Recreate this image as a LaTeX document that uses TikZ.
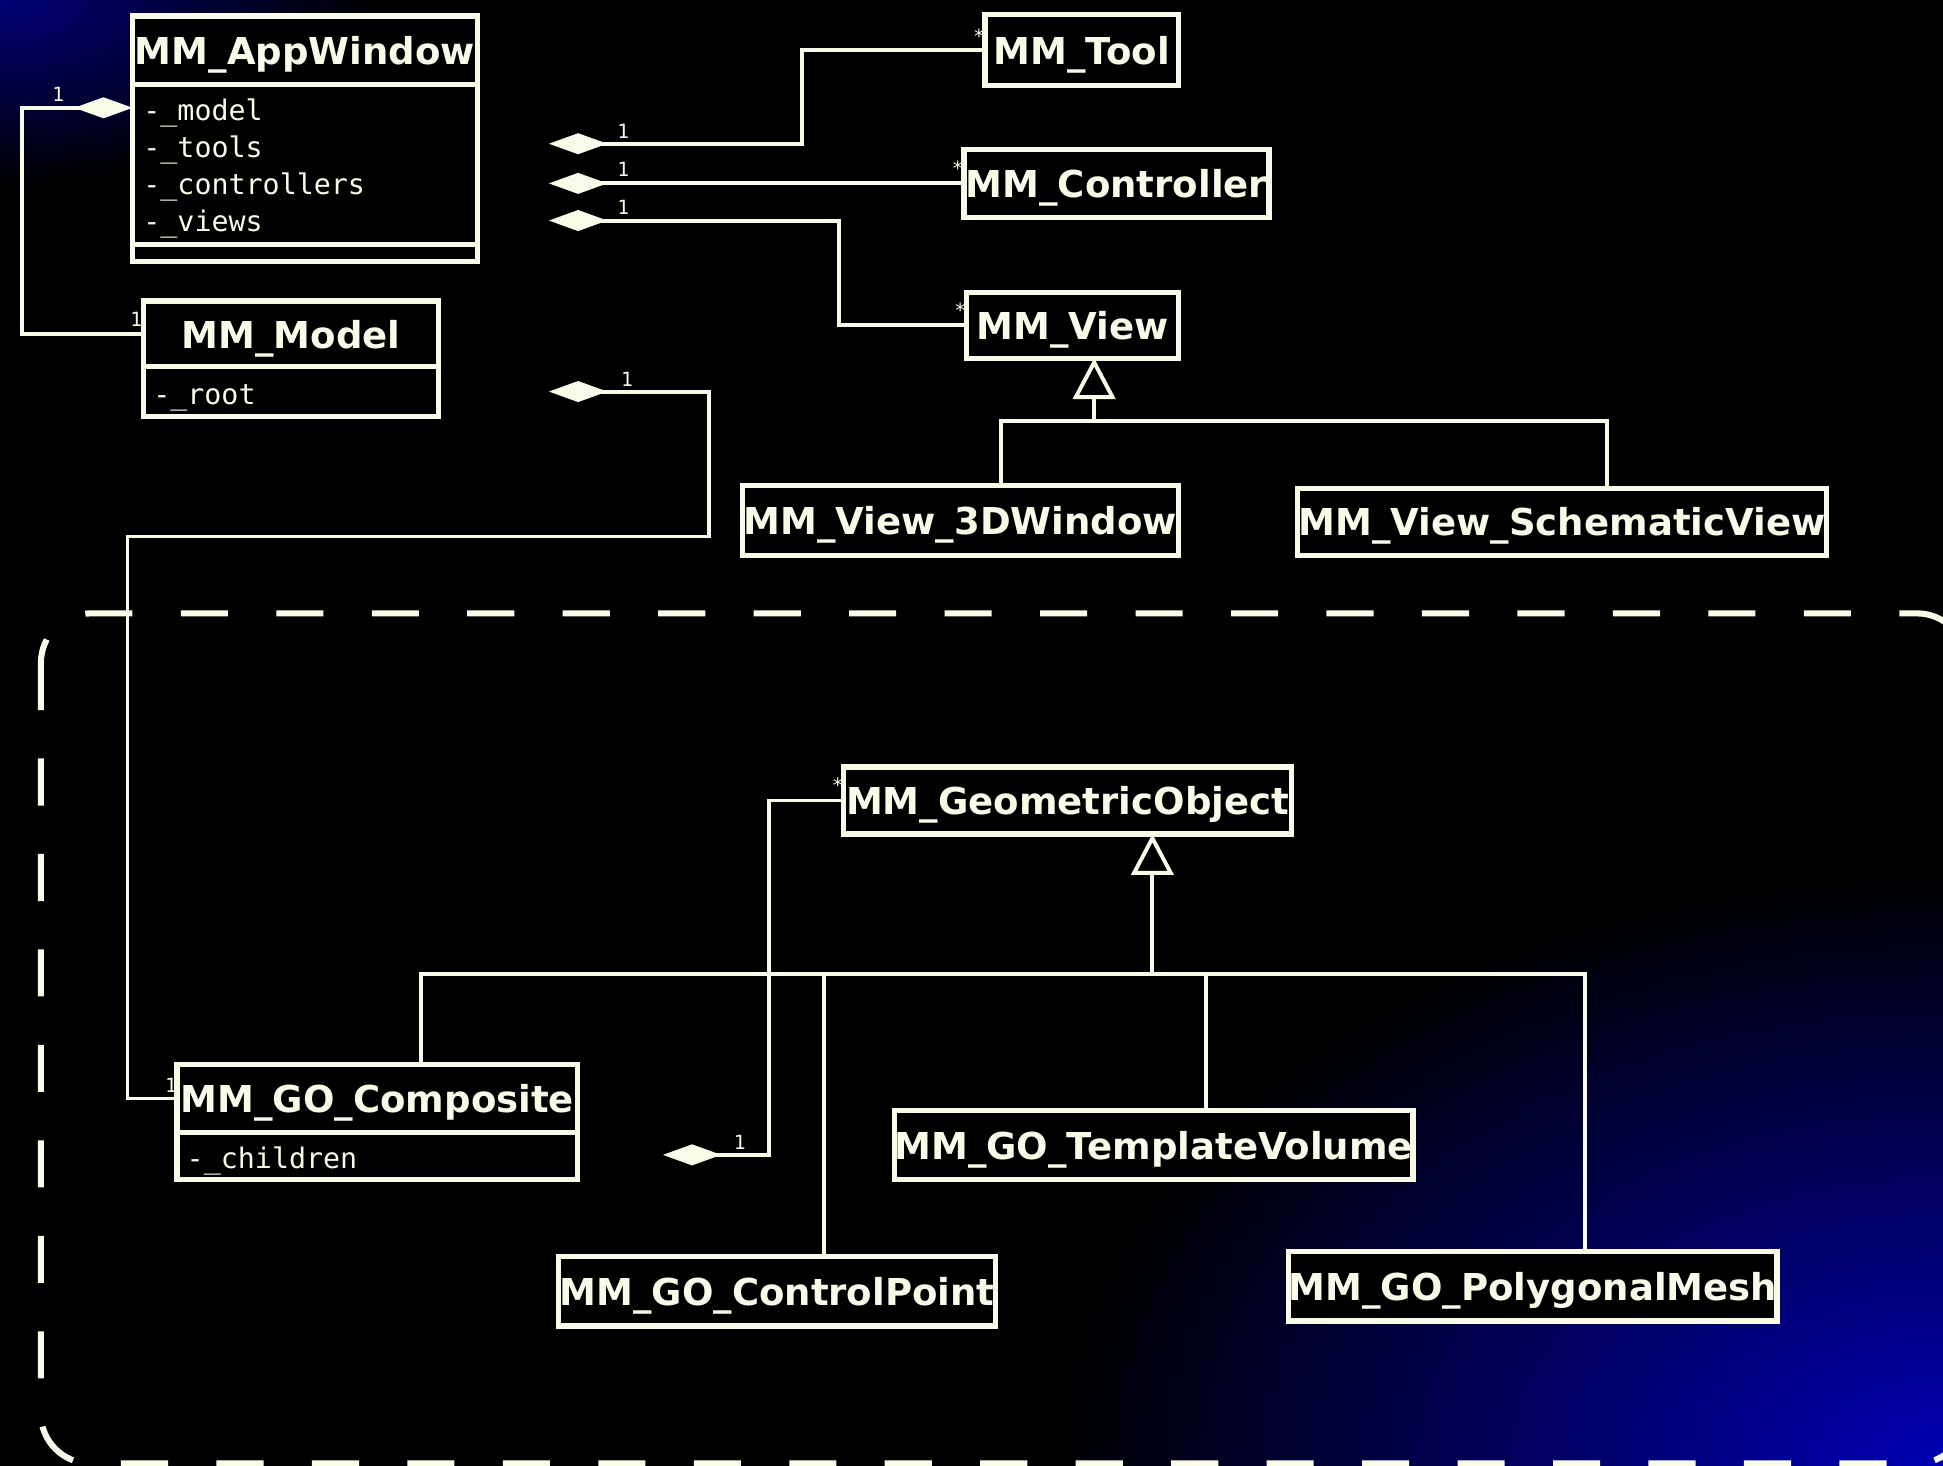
\documentclass[tikz,border=0pt]{standalone}
\usepackage{fontspec}
\usetikzlibrary{arrows.meta,positioning}
\newfontfamily\umlsans{DejaVu Sans}
\newfontfamily\umlmono{DejaVu Sans Mono}
\definecolor{umlline}{RGB}{250,250,232}
\definecolor{topblue}{RGB}{0,0,120}
\definecolor{cornerblue}{RGB}{0,0,180}

\begin{document}
\begin{tikzpicture}[x=0.01cm, y=-0.01cm,
    cls/.style={draw=umlline, line width=1.2pt, fill=black, text=umlline, inner sep=0pt,
                outer sep=0pt, text depth=0pt, font=\umlsans\bfseries\fontsize{8.5}{10}\selectfont},
    attr/.style={anchor=west, inner sep=0pt, text=umlline, font=\umlmono\fontsize{6.5}{8}\selectfont},
    mult/.style={inner sep=0pt, text=umlline, font=\umlmono\fontsize{4.5}{5}\selectfont},
    line/.style={draw=umlline, line width=0.9pt},
    comp/.style={line, -{Diamond[length=4.7mm, width=1.7mm]}},
    gen/.style={line, -{Triangle[open, length=3.3mm, width=3.4mm]}},
    pkg/.style={draw=umlline, line width=1.4pt, dash pattern=on 3.8mm off 3.9mm, rounded corners=4mm}
  ]
  \useasboundingbox (0,0) rectangle (1568,1183);
  \clip (0,0) rectangle (1568,1183);
  \fill[black] (0,0) rectangle (1568,1183);
  \shade[inner color=topblue, outer color=black] (0,0) ellipse [x radius=3cm, y radius=1.5cm];
  \shade[inner color=cornerblue, outer color=black] (1568,1183) ellipse [x radius=7.2cm, y radius=4.8cm];
  \draw[pkg] (33,495) rectangle (1587,1181);

  \node[cls, minimum width=2.78cm, minimum height=5.5mm] (apptitle) at (246,40.5) {MM\_AppWindow};
  \node[cls, minimum width=2.78cm, minimum height=12.9mm, below=0pt of apptitle] (appattr) {};
  \node[cls, minimum width=2.78cm, minimum height=1.4mm, below=0pt of appattr] (appops) {};
  \foreach \n/\lbl [count=\i] in {amodel/model, atools/tools, actrls/controllers, aviews/views}
    \node[attr] (\n) at (115,61+30*\i) {-\_\lbl};

  \node[cls, minimum width=2.38cm, minimum height=5.3mm] (model) at (235,269.5) {MM\_Model};
  \node[cls, minimum width=2.38cm, minimum height=4mm, below=0pt of model] (modelattr) {};
  \node[attr] (aroot) at (123,321) {-\_root};

  \node[cls, minimum width=1.56cm, minimum height=5.7mm] (tool) at (873,40.5) {MM\_Tool};
  \node[cls, minimum width=2.46cm, minimum height=5.5mm] (ctrl) at (901,148) {MM\_Controller};
  \node[cls, minimum width=1.71cm, minimum height=5.3mm] (view) at (865.5,262.5) {MM\_View};
  \node[cls, minimum width=3.52cm, minimum height=5.6mm] (v3d) at (775,420) {MM\_View\_3DWindow};
  \node[cls, minimum width=4.27cm, minimum height=5.4mm] (vsch) at (1260.5,421) {MM\_View\_SchematicView};

  \node[cls, minimum width=3.61cm, minimum height=5.4mm] (geo) at (861.5,646) {MM\_GeometricObject};
  \node[cls, minimum width=3.23cm, minimum height=5.5mm] (gocomp) at (304.5,886.5) {MM\_GO\_Composite};
  \node[cls, minimum width=3.23cm, minimum height=3.8mm, below=0pt of gocomp] (gocompattr) {};
  \node[attr] (achild) at (150,937) {-\_children};
  \node[cls, minimum width=4.18cm, minimum height=5.6mm] (gotv) at (931,924) {MM\_GO\_TemplateVolume};
  \node[cls, minimum width=3.52cm, minimum height=5.6mm] (gocp) at (627,1042) {MM\_GO\_ControlPoint};
  \node[cls, minimum width=3.92cm, minimum height=5.6mm] (gomesh) at (1237,1038) {MM\_GO\_PolygonalMesh};

  \coordinate (modeld) at (107,87);
  \coordinate (toolsd) at (443,116);
  \coordinate (ctrld) at (443,148);
  \coordinate (viewsd) at (443,178);
  \coordinate (rootd) at (443,316);
  \coordinate (rootbend) at (572,433);
  \coordinate (childd) at (535,932);
  \coordinate (vbus) at (883,340);
  \coordinate (gbus) at (930,786);

  \draw[comp] (model.west) -- ++(-98,0) |- (modeld);
  \draw[comp] (tool.west) -- ++(-148,0) |- (toolsd);
  \draw[comp] (ctrl.west) -- (ctrld);
  \draw[comp] (view.west) -- ++(-103,0) |- (viewsd);
  \draw[comp] (gocomp.west) -- ++(-40,0) |- (rootbend) |- (rootd);
  \draw[comp] (geo.west) -- ++(-60,0) |- (childd);

  \draw[gen] (vbus) -- (vbus |- view.south);
  \draw[line] ([xshift=3.3mm]v3d.north) |- (vbus) -| ([xshift=3.65mm]vsch.north);
  \draw[gen] (gbus) -- (gbus |- geo.south);
  \draw[line] ([xshift=3.55mm]gocomp.north) |- (gbus) -| ([xshift=4.2mm]gomesh.north);
  \draw[line] ([xshift=3.8mm]gocp.north) |- (gbus);
  \draw[line] ([xshift=4.2mm]gotv.north) |- (gbus);

  \foreach \n/\x/\y/\lbl in {mapp/47/76/1, mmodel/110/258/1, mtools/503/106/1, mtool/790/29/*,
      mctrls/503/137/1, mctrl/773/136/*, mviews/503/167/1, mview/775/250/*,
      mroot/506/306/1, mcomp/138/876/1, mchild/597/922/1, mgeo/676/634/*}
    \node[mult] (\n) at (\x,\y) {\lbl};
\end{tikzpicture}
\end{document}
